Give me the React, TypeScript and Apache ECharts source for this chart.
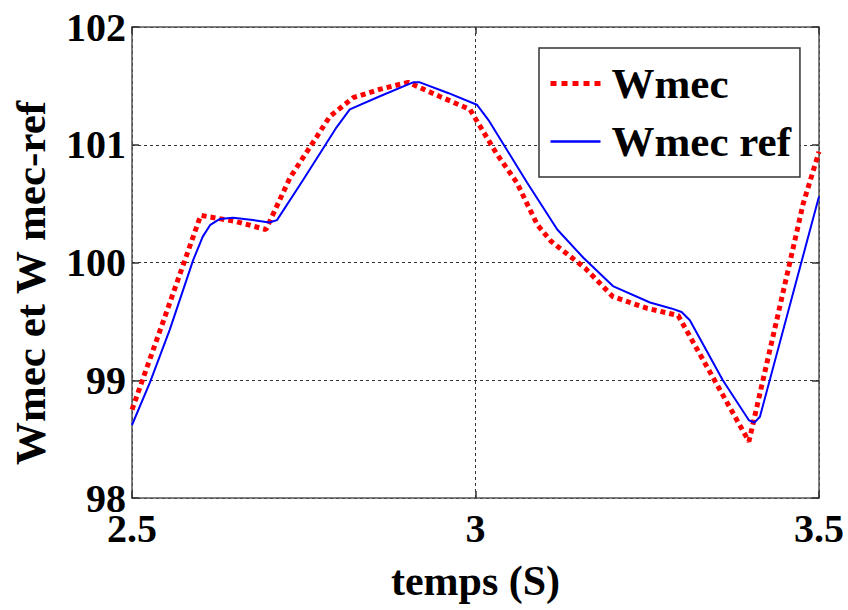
import React, { useEffect, useRef } from "react";
import * as echarts from "echarts";

const xTicks = [2.5, 3, 3.5];
const yTicks = [98, 99, 100, 101, 102];
const yAxisTitle = "Wmec et W mec-ref";
const xAxisTitle = "temps (S)";

const wmecTimes = [2.5, 2.6, 2.65, 2.695, 2.73, 2.788, 2.822, 2.86, 2.902, 2.948, 2.992, 3.03, 3.06, 3.09, 3.11, 3.16, 3.2, 3.25, 3.295, 3.398, 3.44, 3.477, 3.5];
const wmecValues = [98.75, 100.4, 100.35, 100.28, 100.72, 101.24, 101.4, 101.47, 101.53, 101.41, 101.3, 100.93, 100.68, 100.32, 100.18, 99.95, 99.71, 99.61, 99.55, 98.48, 99.55, 100.5, 100.94];

const refTimes = [2.5, 2.526, 2.555, 2.589, 2.603, 2.614, 2.628, 2.647, 2.676, 2.7, 2.711, 2.749, 2.774, 2.798, 2.817, 2.86, 2.909, 2.919, 2.96, 3.002, 3.02, 3.04, 3.075, 3.119, 3.157, 3.2, 3.254, 3.285, 3.3, 3.312, 3.36, 3.398, 3.406, 3.414, 3.5];
const refValues = [98.62, 98.98, 99.43, 100.02, 100.22, 100.32, 100.37, 100.38, 100.36, 100.34, 100.36, 100.7, 100.93, 101.15, 101.3, 101.41, 101.53, 101.53, 101.44, 101.34, 101.2, 101.01, 100.68, 100.28, 100.04, 99.8, 99.66, 99.61, 99.58, 99.51, 99.0, 98.66, 98.64, 98.69, 100.56];

const FONT = "'Liberation Serif', 'Times New Roman', serif";

export default function App() {
  const ref = useRef<HTMLDivElement>(null);
  useEffect(() => {
    if (!ref.current) return;
    const chart = echarts.init(ref.current, null, { renderer: "svg" });
    const tickFmt = (v: number) => (xTicks.includes(v) || yTicks.includes(v) ? String(v) : "");
    const gridLine = { show: true, lineStyle: { color: "#333", type: [3, 3] as any, width: 1 } };
    const axisLine = { show: true, lineStyle: { color: "#555", width: 1.5 } };
    const axisTick = { show: true, inside: true, length: 7, lineStyle: { color: "#333", width: 1.5 } };
    const labelStyle = { fontFamily: FONT, fontWeight: "bold", fontSize: 40, color: "#000" };
    chart.setOption({
      animation: false,
      backgroundColor: "#fff",
      grid: { left: 132, top: 27, width: 687, height: 471, containLabel: false, outerBoundsMode: "none" },
      graphic: [
        {
          type: "text",
          x: 30,
          y: 283,
          rotation: Math.PI / 2,
          style: {
            text: yAxisTitle,
            fontFamily: FONT,
            fontWeight: "bold",
            fontSize: 43,
            fill: "#000",
            align: "center",
            verticalAlign: "middle",
          },
        },
      ],
      legend: {
        orient: "vertical",
        left: 539,
        top: 48,
        padding: [14, 9, 14, 9],
        itemGap: 15,
        itemWidth: 50,
        itemHeight: 20,
        borderColor: "#333",
        borderWidth: 1.5,
        backgroundColor: "#fff",
        itemStyle: { opacity: 0 },
        textStyle: { fontFamily: FONT, fontWeight: "bold", fontSize: 43, color: "#000", padding: [0, 0, 0, 6] },
        data: [
          { name: "Wmec", lineStyle: { color: "#ff0000", width: 5, type: [6, 5] } },
          { name: "Wmec ref", lineStyle: { color: "#0000ff", width: 2.5 } },
        ],
      },
      xAxis: [
        {
          type: "value",
          min: 2.5,
          max: 3.5,
          interval: 0.5,
          name: xAxisTitle,
          nameLocation: "middle",
          nameGap: 62,
          nameTextStyle: { fontFamily: FONT, fontWeight: "bold", fontSize: 42, color: "#000" },
          axisLine,
          axisTick,
          splitLine: gridLine,
          axisLabel: { ...labelStyle, margin: 10, formatter: tickFmt },
        },
        {
          type: "value",
          position: "top",
          min: 2.5,
          max: 3.5,
          interval: 0.5,
          axisLine,
          axisTick,
          splitLine: { show: false },
          axisLabel: { show: false },
        },
      ],
      yAxis: [
        {
          type: "value",
          min: 98,
          max: 102,
          interval: 1,
          axisLine,
          axisTick,
          splitLine: gridLine,
          axisLabel: { ...labelStyle, margin: 6, formatter: tickFmt },
        },
        {
          type: "value",
          position: "right",
          min: 98,
          max: 102,
          interval: 1,
          axisLine,
          axisTick,
          splitLine: { show: false },
          axisLabel: { show: false },
        },
      ],
      series: [
        {
          name: "Wmec",
          type: "line",
          showSymbol: false,
          symbol: "none",
          z: 3,
          lineStyle: { color: "#ff0000", width: 5, type: [5, 4] as any },
          itemStyle: { color: "#ff0000" },
          data: wmecTimes.map((t, i) => [t, wmecValues[i]]),
        },
        {
          name: "Wmec ref",
          type: "line",
          showSymbol: false,
          symbol: "none",
          z: 4,
          lineStyle: { color: "#0000ff", width: 2 },
          itemStyle: { color: "#0000ff" },
          data: refTimes.map((t, i) => [t, refValues[i]]),
        },
      ],
    });
    return () => chart.dispose();
  }, []);
  return <div ref={ref} style={{ width: 848, height: 610, position: "absolute", left: 0, top: 0 }} />;
}
